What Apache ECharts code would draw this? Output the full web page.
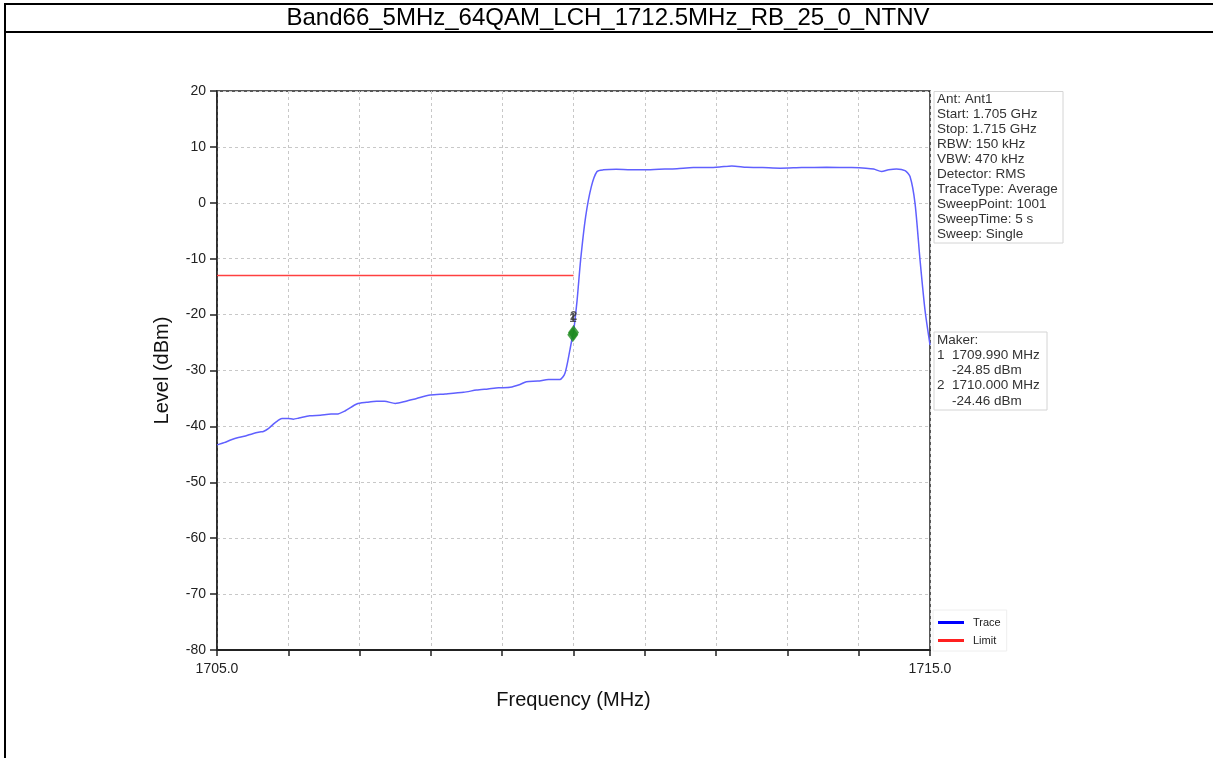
<!DOCTYPE html>
<html>
<head>
<meta charset="utf-8">
<script src="https://cdn.jsdelivr.net/npm/echarts@6/dist/echarts.min.js"></script>
<style>
html,body{margin:0;padding:0;background:#fff;}
#c{width:1213px;height:758px;}
</style>
</head>
<body>
<div id="c"></div>
<script>
var chartTitle = 'Band66_5MHz_64QAM_LCH_1712.5MHz_RB_25_0_NTNV';
var traceFreq = [1705.00,1705.10,1705.20,1705.30,1705.40,1705.50,1705.60,1705.65,1705.72,1705.79,1705.85,1705.91,1706.00,1706.07,1706.15,1706.30,1706.45,1706.60,1706.68,1706.80,1706.96,1707.10,1707.24,1707.35,1707.50,1707.65,1707.80,1707.99,1708.20,1708.46,1708.64,1708.80,1708.95,1709.11,1709.25,1709.34,1709.50,1709.65,1709.81,1709.88,1709.95,1709.99,1710.00,1710.05,1710.10,1710.17,1710.25,1710.33,1710.42,1710.60,1710.80,1710.98,1711.20,1711.45,1711.68,1711.90,1712.05,1712.22,1712.43,1712.65,1712.90,1713.20,1713.55,1713.90,1714.10,1714.21,1714.32,1714.42,1714.53,1714.65,1714.72,1714.79,1714.86,1714.93,1715.00];
var traceLevel = [-43.3,-42.9,-42.4,-42.0,-41.7,-41.3,-41.0,-40.9,-40.4,-39.6,-39.0,-38.6,-38.6,-38.7,-38.5,-38.1,-38.0,-37.8,-37.8,-37.2,-36.0,-35.7,-35.5,-35.5,-35.9,-35.5,-35.0,-34.4,-34.2,-33.9,-33.5,-33.3,-33.1,-33.0,-32.5,-32.0,-31.9,-31.6,-31.6,-30.5,-26.3,-23.6,-23.2,-17.5,-10.2,-2.5,2.9,5.6,5.9,6.0,5.9,5.9,6.0,6.1,6.3,6.3,6.4,6.6,6.35,6.3,6.2,6.3,6.35,6.3,6.2,6.05,5.6,5.9,6.05,5.75,4.7,-0.1,-10.2,-19.2,-25.4];
var limitFreq = [1705.0, 1710.0];
var limitLevel = [-13, -13];
var markerNames = ['1', '2'];
var markerFreq = [1709.99, 1710.00];
var markerLevel = [-23.6, -23.2];
var infoLines = ['Ant: Ant1','Start: 1.705 GHz','Stop: 1.715 GHz','RBW: 150 kHz','VBW: 470 kHz','Detector: RMS','TraceType: Average','SweepPoint: 1001','SweepTime: 5 s','Sweep: Single'];
var makerLines = ['Maker:','1  1709.990 MHz','    -24.85 dBm','2  1710.000 MHz','    -24.46 dBm'];

var traceData = traceFreq.map(function(f,i){return [f, traceLevel[i]];});
var limitData = limitFreq.map(function(f,i){return [f, limitLevel[i]];});
var markerData = markerFreq.map(function(f,i){
  return {value:[f, markerLevel[i]], name: markerNames[i], label: {offset: [0, -1]}};
});

var chart = echarts.init(document.getElementById('c'), null, {renderer:'canvas'});
var font = '"Liberation Sans", Arial, sans-serif';
var option = {
  animation: false,
  backgroundColor: '#fff',
  textStyle: {fontFamily: font},
  grid: {left: 217, right: 283, top: 91, bottom: 108, show: true, borderColor: '#222', borderWidth: 1.5, backgroundColor: 'transparent'},
  xAxis: {
    type: 'value', min: 1705, max: 1715, interval: 1,
    name: 'Frequency (MHz)', nameLocation: 'middle', nameGap: 40,
    nameTextStyle: {fontSize: 20, color: '#111', fontFamily: font},
    axisLine: {show: true, onZero: false, lineStyle: {color: '#222', width: 2}},
    axisTick: {show: true, length: 6, lineStyle: {color: '#222', width: 1.5}},
    axisLabel: {fontSize: 14, color: '#222', margin: 12, fontFamily: font,
      formatter: function(v){ return (v === 1705 || v === 1715) ? v.toFixed(1) : ''; }},
    splitLine: {show: true, lineStyle: {color: '#c8c8c8', type: [3,3], width: 1}}
  },
  yAxis: {
    type: 'value', min: -80, max: 20, interval: 10,
    name: 'Level (dBm)', nameLocation: 'middle', nameGap: 45, nameRotate: 90,
    nameTextStyle: {fontSize: 20, color: '#111', fontFamily: font},
    axisLine: {show: true, onZero: false, lineStyle: {color: '#222', width: 1.5}},
    axisTick: {show: true, length: 7, lineStyle: {color: '#222', width: 1.5}},
    axisLabel: {fontSize: 14, color: '#222', margin: 11, fontFamily: font},
    splitLine: {show: true, lineStyle: {color: '#c8c8c8', type: [3,3], width: 1}}
  },
  legend: {
    orient: 'vertical', left: 933, top: 610, itemWidth: 26, itemHeight: 3, itemGap: 5,
    padding: [6,6,4,5], backgroundColor: '#fff', borderColor: '#eee', borderWidth: 1,
    textStyle: {fontSize: 11, color: '#222', fontFamily: font, padding: [0,0,0,4], lineHeight: 13},
    data: [
      {name: 'Trace', icon: 'rect', itemStyle: {color: '#0000ff'}},
      {name: 'Limit', icon: 'rect', itemStyle: {color: '#ff2020'}}
    ]
  },
  series: [
    {name: 'Trace', type: 'line', data: traceData, showSymbol: false, smooth: 0.25,
     lineStyle: {color: '#6060ff', width: 1.5}, itemStyle: {color: '#0000ff'}, z: 3},
    {name: 'Limit', type: 'line', data: limitData, showSymbol: false,
     lineStyle: {color: '#ff4040', width: 1.5}, itemStyle: {color: '#ff2020'}, z: 2},
    {name: 'Markers', type: 'scatter', data: markerData, symbol: 'diamond', symbolSize: [11, 15],
     itemStyle: {color: '#1a8a1a'}, z: 4,
     label: {show: true, position: 'top', distance: 1, formatter: '{b}', fontSize: 13, fontWeight: 'bold', color: '#333', fontFamily: font}}
  ],
  graphic: [
    {type: 'line', shape: {x1: 4, y1: 4, x2: 1213, y2: 4}, style: {stroke: '#000', lineWidth: 2}},
    {type: 'line', shape: {x1: 4, y1: 32, x2: 1213, y2: 32}, style: {stroke: '#000', lineWidth: 2}},
    {type: 'line', shape: {x1: 5, y1: 3, x2: 5, y2: 758}, style: {stroke: '#000', lineWidth: 2}},
    {type: 'text', x: 608, y: 18, style: {text: chartTitle, font: '24px ' + font, fill: '#000', textAlign: 'center', textVerticalAlign: 'middle'}},
    {type: 'rect', shape: {x: 934, y: 91.5, width: 129, height: 151.5}, style: {fill: '#fff', stroke: '#d4d4d4', lineWidth: 1}},
    {type: 'text', x: 937, y: 91.5, style: {text: infoLines.join('\n'), font: '13.5px ' + font, fill: '#333', lineHeight: 15}},
    {type: 'rect', shape: {x: 934, y: 332, width: 113, height: 78}, style: {fill: '#fff', stroke: '#d4d4d4', lineWidth: 1}},
    {type: 'text', x: 937, y: 332.5, style: {text: makerLines.join('\n'), font: '13.5px ' + font, fill: '#333', lineHeight: 15.2}}
  ]
};
chart.setOption(option);
</script>
</body>
</html>
